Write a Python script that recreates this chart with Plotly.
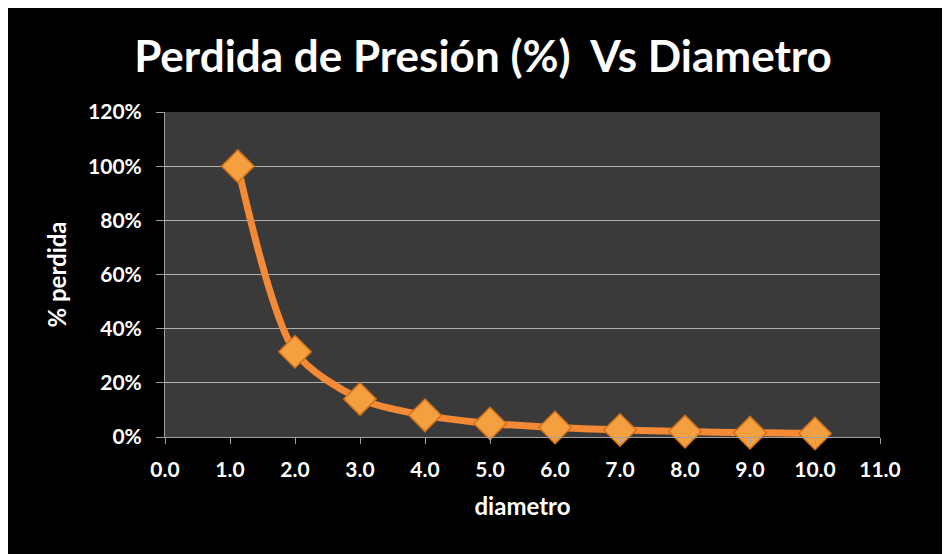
import plotly.graph_objects as go

diametro = [1.12, 2.0, 3.0, 4.0, 5.0, 6.0, 7.0, 8.0, 9.0, 10.0]
perdida = [1.00, 0.315, 0.14, 0.08, 0.05, 0.035, 0.026, 0.02, 0.016, 0.013]

title_text = "Perdida de Presión (%)  Vs Diametro"
x_title = "diametro"
y_title = "% perdida"

font_fam = "Lato, 'Open Sans', sans-serif"

fig = go.Figure()
fig.add_trace(go.Scatter(
    x=diametro, y=perdida, mode="lines+markers",
    line=dict(shape="spline", smoothing=0.8, color="#F58A36", width=7),
    marker=dict(symbol="diamond", size=25, color="#F5A040",
                line=dict(color="#D07018", width=1.5)),
    showlegend=False, cliponaxis=False,
))

fig.update_layout(
    width=950, height=554,
    paper_bgcolor="#000000", plot_bgcolor="#3a3a3a",
    margin=dict(l=157, r=78, t=104, b=125),
    title=dict(text=title_text, x=0.5, xref="container", xanchor="center",
               y=0.913, yref="container", yanchor="middle",
               font=dict(family=font_fam, size=44, color="white", weight="bold")),
    font=dict(family=font_fam, color="white"),
    xaxis=dict(range=[0, 11], dtick=1, tick0=0, tickformat=".1f",
               showgrid=False, zeroline=False,
               showline=True, linecolor="#a0a0a0", linewidth=1,
               ticks="outside", ticklen=6, tickcolor="#a0a0a0",
               ticklabelstandoff=8,
               tickfont=dict(size=21, color="white", family=font_fam, weight="bold"),
               title=dict(text=x_title, standoff=17,
                          font=dict(size=24, color="white", family=font_fam, weight="bold"))),
    yaxis=dict(range=[0, 1.2], dtick=0.2, tick0=0, tickformat=".0%",
               showgrid=True, gridcolor="#b0b0b0", gridwidth=1,
               zeroline=False,
               showline=True, linecolor="#a0a0a0", linewidth=1,
               ticks="outside", ticklen=8, tickcolor="#a0a0a0",
               ticklabelstandoff=10,
               tickfont=dict(size=21, color="white", family=font_fam, weight="bold"),
               title=dict(text=y_title, standoff=14,
                          font=dict(size=24, color="white", family=font_fam, weight="bold"))),
)

fig.write_html("out.html")
